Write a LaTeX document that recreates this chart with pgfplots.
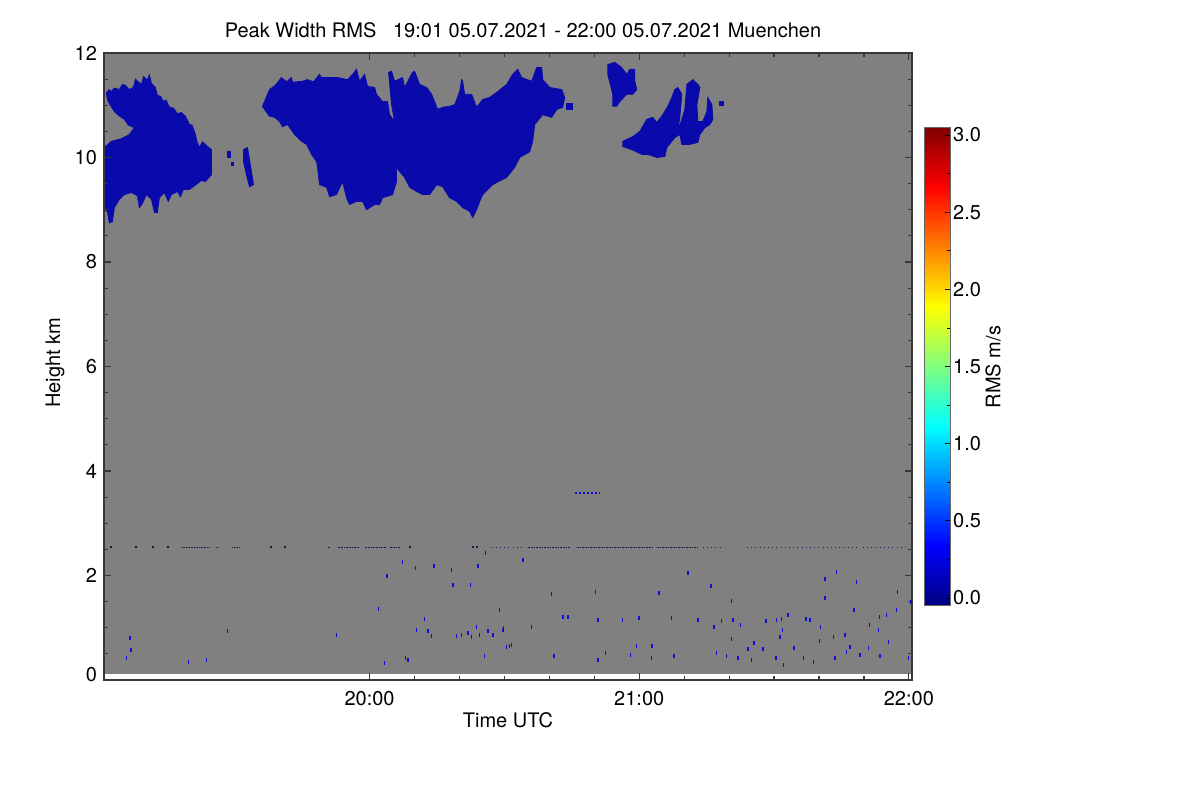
\documentclass[border=0pt]{standalone}
\usepackage{pgfplots}
\pgfplotsset{compat=1.18}
\usepackage{fontspec}
\setmainfont{TeX Gyre Heros}
\definecolor{bggray}{RGB}{128,128,128}
\definecolor{cloud}{RGB}{10,10,172}
\definecolor{speck}{RGB}{15,15,215}
\definecolor{navyline}{RGB}{25,25,80}
\definecolor{frame}{RGB}{55,55,55}
\begin{document}
\begin{tikzpicture}[font=\fontsize{10bp}{12bp}\selectfont]
\useasboundingbox (0,0) rectangle (600bp,400bp);
\begin{axis}[
  at={(52bp,60bp)}, anchor=south west,
  scale only axis, width=404bp, height=313.5bp,
  xmin=0.9, xmax=180.7, ymin=0, ymax=12,
  axis line style={frame, line width=0.9bp},
  xtick={60,120,180}, xticklabels={20:00,21:00,22:00},
  minor x tick num=5,
  ytick={0,2,...,12}, yticklabels={\raisebox{6bp}{0},2,4,6,8,10,12},
  minor y tick num=3,
  tick align=inside,
  major tick length=3.5bp, minor tick length=2bp,
  every tick/.style={frame, line width=0.6bp},
  tick label style={font=\fontsize{10bp}{12bp}\selectfont},
  label style={font=\fontsize{10bp}{12bp}\selectfont},
  xticklabel style={anchor=center, yshift=-9.5bp},
  xlabel={Time UTC}, ylabel={Height km},
  xlabel style={at={(axis description cs:0.5,-0.0638)}, anchor=center},
  ylabel style={at={(axis description cs:-0.0606,0.506)}, anchor=center},
  axis on top,
  unbounded coords=jump,
  colormap/jet,
  point meta min=-0.052, point meta max=3.05,
  colorbar,
  colorbar style={
    at={(parent axis.south east)}, anchor=south west,
    xshift=-2.25bp, yshift=37bp,
    scale only axis, width=12.8bp, height=239.35bp,
    ytick={0,0.5,...,3}, yticklabels={0.0,0.5,1.0,1.5,2.0,2.5,3.0},
    ytick pos=right, yticklabel pos=right,
    tick align=inside,
    major tick length=2.5bp, minor tick length=1.5bp,
    minor y tick num=1,
    every tick/.style={black, line width=0.4bp},
    axis line style={black!60, line width=0.5bp},
    yticklabel style={font=\fontsize{10bp}{12bp}\selectfont, xshift=-2bp},
  },
]
% gray background (no data below ~0.11 km)
\addplot[fill=bggray, draw=none] coordinates {(0,0.11) (182,0.11) (182,12.5) (0,12.5)} -- cycle;

% left cloud
\addplot[fill=cloud, draw=cloud, line width=0.4bp] coordinates {
(0.5,10.15) (2.54,10.31) (4.77,10.36) (6.55,10.44) (7.66,10.57) (6.3,10.62) (5.43,10.73) (4.2,10.80) (3.21,10.88)
(2.3,11.0) (1.65,11.11) (1.43,11.23) (2.0,11.30) (2.54,11.26) (3.2,11.33) (4.32,11.30) (5.0,11.40) (5.66,11.38) (6.5,11.30) (7.44,11.34) (7.9,11.50) (8.33,11.46)
(9.22,11.40) (9.7,11.55) (10.56,11.48) (11.0,11.58) (11.45,11.42) (12.34,11.34) (12.78,11.19) (13.5,11.17) (14.12,11.07) (14.7,11.10) (15.46,10.96)
(16.3,10.95) (17.24,10.84) (18.1,10.86) (19.02,10.79) (19.91,10.63) (20.5,10.62) (21.25,10.44) (21.6,10.30) (22.14,10.19) (22.8,10.30) (23.70,10.23) (24.81,10.15)
(24.81,9.67) (23.47,9.54) (22.5,9.56) (21.69,9.50) (20.9,9.45) (19.91,9.39) (18.57,9.39) (17.9,9.25) (17.24,9.35) (15.90,9.29)
(15.2,9.16) (14.34,9.33) (13.23,9.23) (12.78,8.95) (12.12,8.95) (11.45,9.20) (10.33,9.29) (9.44,9.12)
(8.77,9.04) (8.33,9.27) (6.99,9.33) (5.43,9.29) (4.32,9.20) (3.21,9.04) (2.76,8.77)
(2.09,8.75) (1.65,8.97) (0.5,9.00)} -- cycle;
% small bits near 19:30
\addplot[fill=cloud, draw=cloud, line width=0.4bp] coordinates {
(31.94,10.15) (32.83,10.19) (33.27,9.96) (33.72,9.73) (34.16,9.48) (33.27,9.44) (32.60,9.67) (31.94,9.92)} -- cycle;
\addplot[fill=cloud, draw=cloud, line width=0.4bp] coordinates {(28.37,10.11) (29.04,10.11) (29.04,10.00) (28.37,10.00)} -- cycle;
\addplot[fill=cloud, draw=cloud, line width=0.4bp] coordinates {(29.26,9.90) (29.71,9.90) (29.71,9.85) (29.26,9.85)} -- cycle;

% middle cloud
\addplot[fill=cloud, draw=cloud, line width=0.4bp] coordinates {
(36.17,10.98) (37.0,11.15) (37.73,11.30) (39.0,11.38) (40.40,11.53) (41.5,11.45) (42.63,11.53) (42.85,11.44) (45.07,11.46) (46.19,11.49)
(47.5,11.45) (48.86,11.59) (49.31,11.53) (51.09,11.53) (52.87,11.53) (55.10,11.49) (56.21,11.59) (57.10,11.69)
(57.77,11.46) (58.88,11.59) (59.55,11.36) (61.11,11.34) (61.55,11.21) (62.89,11.07) (64.00,11.07)
(64.45,10.82) (65.56,10.69) (64.90,11.01) (64.23,11.63) (64.90,11.65) (65.56,11.46) (67.34,11.53)
(67.79,11.34) (69.57,11.63) (70.02,11.65) (71.13,11.40) (72.69,11.34) (73.80,11.21) (74.47,11.07)
(75.14,10.92) (76.25,10.96) (77.81,10.98) (78.92,11.01) (80.04,11.26) (80.48,11.49) (80.71,11.46)
(81.15,11.21) (82.71,11.21) (83.82,10.96) (85.16,11.11) (86.72,11.15) (88.50,11.26) (90.50,11.40)
(91.84,11.59) (92.96,11.69) (93.84,11.53) (96.07,11.46) (97.18,11.72) (98.30,11.72) (98.52,11.49)
(100.08,11.34) (102.75,11.30) (103.42,11.15) (102.98,10.96) (101.64,10.92) (100.53,10.77)
(98.52,10.82) (96.74,10.63) (96.29,10.31) (95.63,10.11) (93.40,10.00) (92.29,9.81) (90.50,9.62)
(87.39,9.48) (85.16,9.29) (84.50,9.16) (83.82,9.00) (82.94,8.85) (82.27,8.97) (80.71,9.04)
(79.37,9.16) (77.81,9.23) (76.25,9.44) (74.92,9.48) (73.36,9.29) (71.80,9.29) (70.47,9.35)
(68.91,9.43) (67.79,9.62) (66.68,9.73) (66.01,9.81) (66.01,9.54) (65.12,9.29) (62.89,9.23)
(62.23,9.10) (61.11,9.10) (59.33,9.00) (58.44,9.16) (57.10,9.16) (55.54,9.10) (54.87,9.23)
(53.98,9.54) (52.65,9.29) (51.09,9.25) (50.42,9.43) (48.86,9.48) (48.42,9.81) (48.20,9.92)
(47.08,10.06) (45.97,10.25) (44.85,10.31) (43.30,10.44) (41.74,10.63) (40.62,10.59) (39.96,10.69)
(38.84,10.77) (37.73,10.79) (36.61,10.92)} -- cycle;
\addplot[fill=cloud, draw=cloud, line width=0.4bp] coordinates {(103.87,11.03) (105.21,11.03) (105.21,10.92) (103.87,10.92)} -- cycle;

% upper right blob
\addplot[fill=cloud, draw=cloud, line width=0.4bp] coordinates {
(113.0,11.78) (114.56,11.82) (116.12,11.72) (117.23,11.59) (117.90,11.69) (119.01,11.69) (119.01,11.46)
(119.46,11.30) (118.57,11.21) (117.23,11.21) (115.67,11.07) (115.0,10.98) (114.11,10.98) (114.11,11.21)
(113.44,11.44) (113.0,11.59)} -- cycle;
% right crescent
\addplot[fill=cloud, draw=cloud, line width=0.4bp] coordinates {
(116.34,10.31) (118.57,10.40) (120.13,10.50) (121.69,10.73) (123.02,10.77) (123.91,10.67) (125.25,10.82)
(126.36,10.98) (127.25,11.15) (127.92,11.30) (128.59,11.34) (129.48,11.21) (129.03,10.77) (128.59,10.50)
(129.48,10.73) (130.15,10.92) (130.60,11.40) (131.94,11.49) (133.05,11.40) (133.50,11.34) (132.83,11.01)
(133.05,10.69) (134.16,10.69) (135.05,10.88) (135.28,11.15) (136.17,11.01) (136.39,10.73) (135.72,10.63)
(134.61,10.57) (133.50,10.44) (133.05,10.29) (131.27,10.25) (129.48,10.25) (129.03,10.44) (127.92,10.38)
(126.14,10.19) (125.70,10.02) (123.91,10.00) (121.92,10.06) (120.58,10.06) (118.35,10.15) (116.34,10.21)} -- cycle;
\addplot[fill=cloud, draw=cloud, line width=0.4bp] coordinates {(137.95,11.07) (138.62,11.07) (138.62,11.0) (137.95,11.0)} -- cycle;

% dotted layer near 2.54 km
\addplot[navyline, line width=0.6bp, dash pattern=on 0.5bp off 0.3bp] coordinates {
(18.06,2.54) (21.40,2.54) (nan,nan) (21.69,2.54) (24.36,2.54) (nan,nan) (25.92,2.54) (26.59,2.54) (nan,nan)
(29.49,2.54) (31.04,2.54) (nan,nan) (50.64,2.54) (51.09,2.54) (nan,nan) (52.87,2.54) (57.77,2.54) (nan,nan)
(58.88,2.54) (63.78,2.54) (nan,nan) (64.45,2.54) (66.68,2.54) (nan,nan) (95.18,2.54) (104.53,2.54) (nan,nan)
(106.09,2.54) (123.02,2.54) (nan,nan) (123.91,2.54) (132.83,2.54)};
\addplot[navyline, line width=0.6bp, dash pattern=on 0.5bp off 1.6bp] coordinates {
(87.16,2.54) (94.0,2.54) (nan,nan) (134.16,2.54) (137.95,2.54) (nan,nan) (143.97,2.54) (168.47,2.54) (nan,nan)
(169.8,2.54) (179.15,2.54)};
\addplot[only marks, mark=square*, mark size=0.3bp, navyline] coordinates {
(2.47,2.54) (8.04,2.54) (11.74,2.54) (15.08,2.54) (38.10,2.54) (41.07,2.54) (68.91,2.54) (82.94,2.54) (83.82,2.54)};
% short layer near 3.58 km
\addplot[speck, line width=0.6bp, dash pattern=on 1bp off 1bp] coordinates {(105.6,3.58) (111.2,3.58)};

% scattered specks in the boundary layer
\addplot[only marks, mark=|, mark size=1bp, speck, mark options={line width=0.7bp}] coordinates {
(6.70,0.80) (6.93,0.57) (5.95,0.43) (19.75,0.34) (23.76,0.38) (28.44,0.93) (52.58,0.86) (62.0,1.35)
(63.85,1.99) (63.34,0.33) (67.28,2.25) (70.24,2.14) (74.31,2.18) (78.19,2.11) (78.55,1.82) (82.49,1.82)
(84.11,2.18) (85.83,2.44) (94.13,2.30) (88.95,1.34) (72.24,1.17) (70.40,0.96) (72.98,0.93) (73.74,0.84)
(68.01,0.43) (68.52,0.38) (79.30,0.84) (80.42,0.86) (81.89,0.89) (82.64,0.83) (83.76,1.02) (84.49,0.86)
(86.34,0.93) (87.45,0.86) (89.68,0.96) (90.44,0.64) (91.55,0.67) (96.01,1.02) (85.61,0.46) (89.84,0.99)
(91.17,0.65) (100.46,1.65) (103.04,1.20) (104.16,1.20) (101.04,0.46) (110.26,1.69) (110.84,1.15)
(110.84,0.38) (112.55,0.51) (116.27,1.15) (119.39,0.65) (118.12,0.48) (119.97,1.18) (122.86,0.65)
(122.73,0.42) (124.42,1.67) (127.70,0.46) (127.18,1.18) (130.88,2.04) (133.11,1.15) (135.94,1.80)
(136.60,1.01) (138.32,1.12) (140.55,1.52) (140.90,1.14) (142.55,1.05) (140.55,0.78) (137.21,0.51)
(139.43,0.45) (142.02,0.43) (144.24,0.59) (145.0,0.38) (145.58,0.70) (147.58,0.59) (148.18,1.12)
(150.57,1.15) (151.68,1.16) (151.90,0.96) (151.30,0.83) (150.41,0.42) (152.04,0.29) (153.15,1.25)
(154.42,0.61) (156.49,0.43) (157.09,1.16) (157.98,1.15) (160.37,1.01) (160.05,0.75) (158.72,0.35)
(163.17,0.83) (165.78,0.86) (166.89,0.64) (166.16,0.54) (163.55,0.42) (167.78,1.34) (163.93,2.07)
(161.32,1.93) (168.38,1.88) (161.32,1.57) (171.19,1.05) (173.42,1.21) (173.19,0.96) (175.42,0.73)
(170.97,0.61) (173.57,0.45) (177.29,1.34) (177.43,1.69) (179.87,0.42) (180.5,1.50) (169.12,0.48)
(175.06,1.25)};
\end{axis}
\node at (261.5bp,384.8bp) {Peak Width RMS\ \ \ 19:01 05.07.2021 - 22:00 05.07.2021 Muenchen};
\node[rotate=90] at (496.5bp,216.5bp) {RMS m/s};
\end{tikzpicture}
\end{document}
